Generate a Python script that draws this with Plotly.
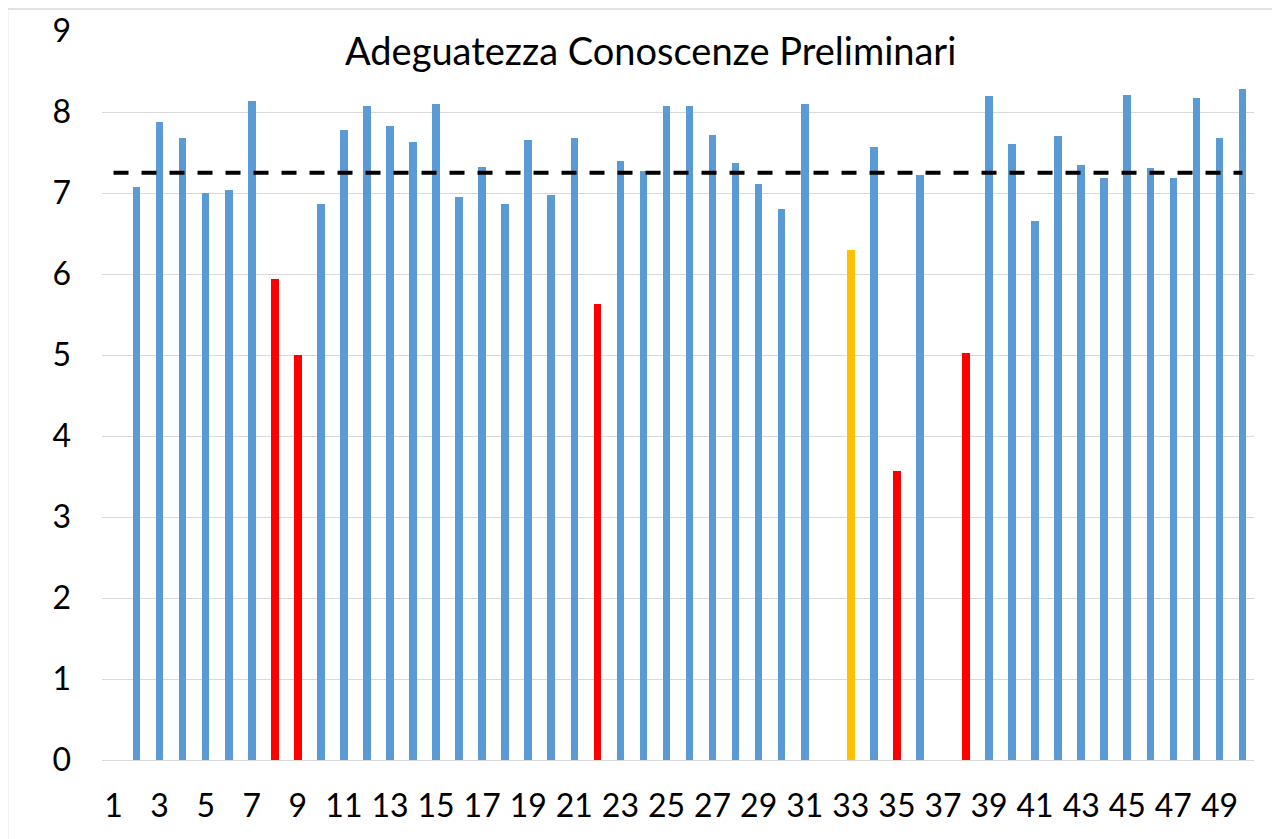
import plotly.graph_objects as go

# ---- data ----
categories = list(range(1, 51))
values = [None, 7.08, 7.88, 7.68, 7.00, 7.04, 8.14, 5.94, 5.00, 6.87,
          7.78, 8.07, 7.83, 7.63, 8.10, 6.95, 7.32, 6.87, 7.65, 6.98,
          7.68, 5.63, 7.40, 7.27, 8.07, 8.08, 7.72, 7.37, 7.11, 6.80,
          8.10, None, 6.30, 7.57, 3.57, 7.22, None, 5.03, 8.20, 7.60,
          6.65, 7.70, 7.35, 7.18, 8.21, 7.31, 7.19, 8.17, 7.68, 8.28]
groups = ['ok'] * 50
for c in (8, 9, 22, 35, 38):
    groups[c - 1] = 'low'
groups[33 - 1] = 'mid'
threshold = [7.25] * 50
x_tick_vals = list(range(1, 50, 2))
y_tick_vals = list(range(0, 10))
title_text = "Adeguatezza Conoscenze Preliminari"

colour_map = {'ok': '#5B9BD5', 'low': '#FF0000', 'mid': '#FFC000'}

OFF = 8  # default body margin of the html page
W, H = 1280, 839
# target plot area in window pixels: x 101.5..1254.5, y 31..760
L = 101.5 - OFF
R = W - (1254.5 - OFF)
T = 31 - OFF
B = H - (760 - OFF)

fig = go.Figure()
fig.add_trace(go.Bar(
    x=categories, y=values, width=0.33,
    marker=dict(color=[colour_map[g] for g in groups], line=dict(width=0)),
    showlegend=False, hoverinfo='x+y'))
fig.add_trace(go.Scatter(
    x=categories, y=threshold, mode='lines',
    line=dict(color='black', width=4, dash='15px,13px'),
    showlegend=False, hoverinfo='skip'))

pw = W - L - R
ph = H - T - B
def px_x(p):
    return (p - OFF - L) / pw
def px_y(p):
    return (H - B - (p - OFF)) / ph

fig.update_layout(
    width=W, height=H,
    margin=dict(l=L, r=R, t=T, b=B, pad=0, autoexpand=False),
    paper_bgcolor='white', plot_bgcolor='white',
    font=dict(family='Lato, sans-serif', color='black'),
    bargap=0,
    xaxis=dict(range=[0.5, 50.5], tickmode='array', tickvals=x_tick_vals,
               ticktext=[str(v) for v in x_tick_vals], automargin=False,
               showgrid=False, zeroline=False, showline=True,
               linecolor='#D9D9D9', linewidth=1, ticks='',
               tickfont=dict(size=32), ticklabelstandoff=18),
    yaxis=dict(range=[0, 9], tickmode='array', tickvals=y_tick_vals,
               automargin=False,
               showgrid=True, gridcolor='#D9D9D9', gridwidth=1,
               zeroline=False, showline=False, ticks='',
               tickfont=dict(size=32), ticklabelstandoff=30),
    annotations=[dict(text=title_text, xref='paper', yref='paper',
                      x=px_x(650), y=px_y(50), xanchor='center', yanchor='middle',
                      showarrow=False, font=dict(size=38, color='black'))],
    shapes=[dict(type='rect', xref='paper', yref='paper',
                 x0=px_x(7), x1=px_x(1300), y0=px_y(860), y1=px_y(9),
                 line=dict(color='#D9D9D9', width=1.5), layer='below')],
)

fig.write_html("out.html")
